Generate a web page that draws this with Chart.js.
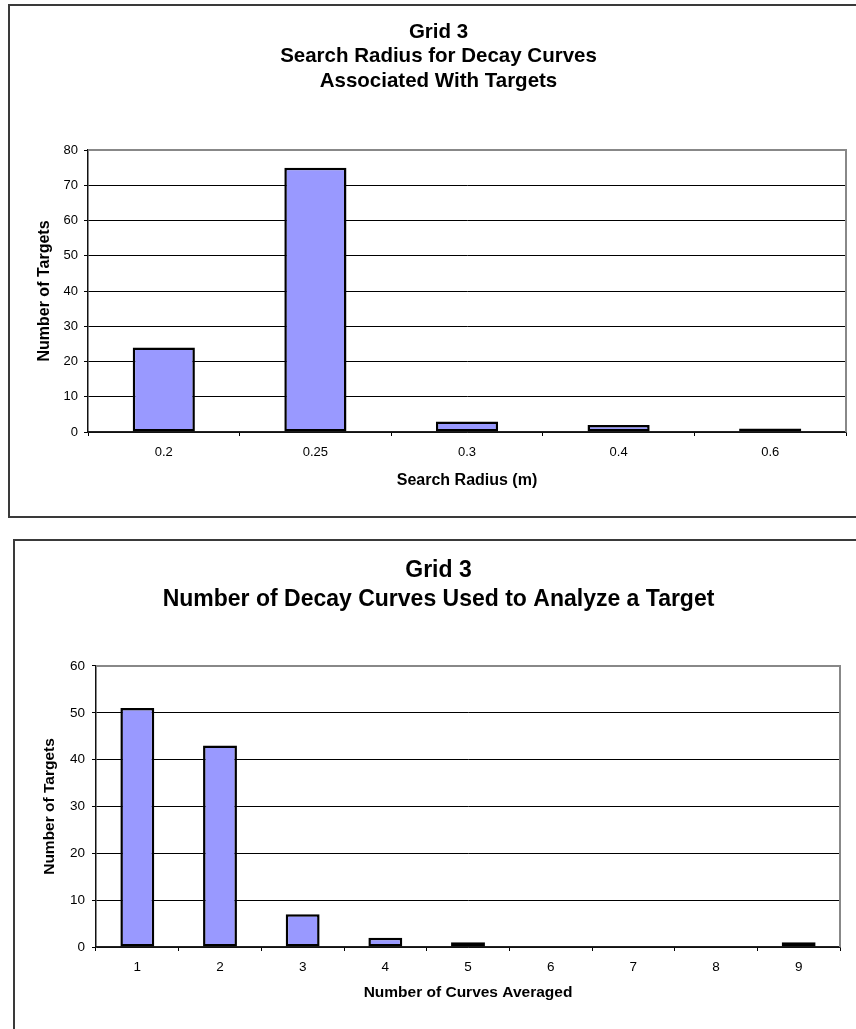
<!DOCTYPE html>
<html>
<head>
<meta charset="utf-8">
<script src="https://cdn.jsdelivr.net/npm/chart.js@4.4.1/dist/chart.umd.min.js"></script>
<style>
  html, body { margin: 0; padding: 0; background: #fff; overflow: hidden; width: 856px; height: 1029px; }
  .box { position: absolute; border: 2px solid #3a3a3a; box-sizing: border-box; }
  canvas { position: absolute; }
</style>
</head>
<body>
<div class="box" style="left:8px; top:4px; width:900px; height:514px;"></div>
<div class="box" style="left:13px; top:539px; width:900px; height:600px;"></div>
<canvas id="c1" width="867" height="510" style="left:0px; top:6px;"></canvas>
<canvas id="c2" width="862" height="488" style="left:0px; top:541px;"></canvas>
<script>
// ---- Chart 1 data ----
const radiusCategories = ['0.2', '0.25', '0.3', '0.4', '0.6'];
const radiusTargets = [24, 75, 3, 2, 1];
const radiusTitle = ['Grid 3', 'Search Radius for Decay Curves', 'Associated With Targets'];
const radiusXTitle = 'Search Radius (m)';
const radiusYMax = 80;

// ---- Chart 2 data ----
const curveCategories = ['1', '2', '3', '4', '5', '6', '7', '8', '9'];
const curveTargets = [51, 43, 7, 2, 1, 0, 0, 0, 1];
const curveTitle = ['Grid 3', 'Number of Decay Curves Used to Analyze a Target'];
const curveXTitle = 'Number of Curves Averaged';
const curveYMax = 60;

const yTitleText = 'Number of Targets';
const FAMILY = '"Liberation Sans", Arial, Helvetica, sans-serif';

const plotFrame = {
  id: 'plotFrame',
  afterDraw(chart) {
    const a = chart.chartArea, ctx = chart.ctx;
    ctx.save();
    ctx.strokeStyle = '#888888';
    ctx.lineWidth = 2;
    ctx.beginPath();
    ctx.moveTo(a.left, a.top);
    ctx.lineTo(a.right, a.top);
    ctx.lineTo(a.right, a.bottom);
    ctx.stroke();
    ctx.restore();
  }
};

function makeChart(id, cfg) {
  return new Chart(document.getElementById(id), {
    type: 'bar',
    data: {
      labels: cfg.labels,
      datasets: [{
        data: cfg.values,
        backgroundColor: '#9999FF',
        borderColor: '#000000',
        borderWidth: 2.5,
        borderSkipped: false,
        categoryPercentage: 1,
        barPercentage: 0.41
      }]
    },
    options: {
      responsive: false,
      animation: false,
      devicePixelRatio: 1,
      layout: { padding: { left: cfg.padLeft, right: cfg.padRight, top: 0, bottom: cfg.padBottom } },
      plugins: {
        legend: { display: false },
        tooltip: { enabled: false },
        title: {
          display: true,
          text: cfg.title,
          color: '#000',
          font: { family: FAMILY, size: cfg.titleSize, weight: 'bold', lineHeight: cfg.titleLH },
          padding: { top: cfg.titlePadTop, bottom: cfg.titlePadBottom }
        }
      },
      scales: {
        x: {
          offset: true,
          grid: { display: true, drawOnChartArea: false, drawTicks: true, tickLength: 4, offset: true, color: '#000', lineWidth: 1 },
          border: { display: true, color: '#222', width: 1.5 },
          ticks: { color: '#000', padding: cfg.xTickPad, font: { family: FAMILY, size: cfg.tickSize } },
          title: { display: true, text: cfg.xTitle, color: '#000', padding: { top: 0, bottom: 0 },
                   font: { family: FAMILY, size: cfg.axisTitleSize, weight: 'bold' } },
          afterFit(s) { s.height = cfg.xHeight; }
        },
        y: {
          min: 0,
          max: cfg.yMax,
          ticks: { stepSize: 10, color: '#000', padding: cfg.yTickPad, font: { family: FAMILY, size: cfg.tickSize } },
          grid: {
            drawTicks: true, tickLength: 4, tickColor: '#000', lineWidth: 1,
            color: (c) => (c.tick && c.tick.value === cfg.yMax) ? '#888888' : '#000'
          },
          border: { display: true, color: '#111', width: 1.5 },
          title: { display: true, text: yTitleText, color: '#000', padding: { top: cfg.yTitlePad, bottom: 0 },
                   font: { family: FAMILY, size: cfg.axisTitleSize, weight: 'bold' } },
          afterFit(s) { s.width = cfg.yWidth; }
        }
      }
    },
    plugins: [plotFrame]
  });
}

makeChart('c1', {
  labels: radiusCategories, values: radiusTargets, title: radiusTitle, xTitle: radiusXTitle, yMax: radiusYMax,
  padLeft: 31, padRight: 21, padBottom: 25.4,
  titleSize: 20.5, titleLH: 1.2, titlePadTop: 13.7, titlePadBottom: 56.5,
  tickSize: 13, axisTitleSize: 16,
  xTickPad: 9, yTickPad: 6, xHeight: 58.6, yWidth: 57, yTitlePad: 4.4
});

makeChart('c2', {
  labels: curveCategories, values: curveTargets, title: curveTitle, xTitle: curveXTitle, yMax: curveYMax,
  padLeft: 37, padRight: 22, padBottom: 26.7,
  titleSize: 23, titleLH: 1.26, titlePadTop: 15.5, titlePadBottom: 51.5,
  tickSize: 13.5, axisTitleSize: 15.5,
  xTickPad: 8, yTickPad: 7, xHeight: 55.3, yWidth: 59, yTitlePad: 3.7
});
</script>
</body>
</html>
